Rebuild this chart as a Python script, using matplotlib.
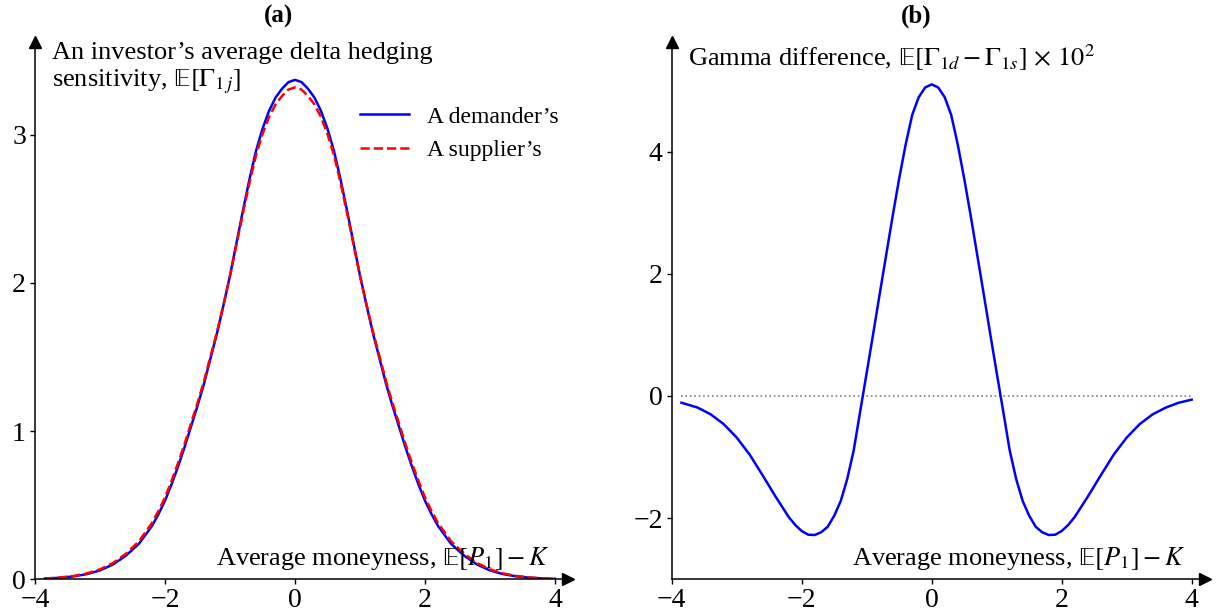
import matplotlib
matplotlib.use("Agg")
import matplotlib.pyplot as plt

plt.rcParams['font.family'] = ['Liberation Serif', 'DejaVu Serif']
plt.rcParams['mathtext.fontset'] = 'stix'

# values
moneyness = [-3.85, -3.6, -3.4, -3.2, -3.0, -2.8, -2.6, -2.4,
             -2.2, -2.1, -2.0, -1.9, -1.8, -1.7, -1.6, -1.5, -1.4, -1.3, -1.2, -1.1,
             -1.0, -0.9, -0.8, -0.7, -0.6, -0.5, -0.4, -0.3, -0.2, -0.1, 0.0,
             0.1, 0.2, 0.3, 0.4, 0.5, 0.6, 0.7, 0.8, 0.9, 1.0,
             1.1, 1.2, 1.3, 1.4, 1.5, 1.6, 1.7, 1.8, 1.9, 2.0, 2.1, 2.2,
             2.4, 2.6, 2.8, 3.0, 3.2, 3.4, 3.6, 3.8, 4.0]

gamma_demander = [0.004, 0.011, 0.020, 0.035, 0.060, 0.100, 0.160, 0.240,
                  0.360, 0.440, 0.530, 0.640, 0.760, 0.890, 1.030, 1.170, 1.320, 1.490, 1.660, 1.850,
                  2.050, 2.270, 2.490, 2.700, 2.890, 3.040, 3.160, 3.250, 3.310, 3.355, 3.370,
                  3.355, 3.310, 3.250, 3.160, 3.040, 2.890, 2.700, 2.490, 2.270, 2.050,
                  1.850, 1.660, 1.490, 1.320, 1.170, 1.030, 0.890, 0.760, 0.640, 0.530, 0.440, 0.360,
                  0.240, 0.160, 0.100, 0.060, 0.035, 0.020, 0.011, 0.006, 0.003]

gamma_supplier = [0.005, 0.013, 0.023, 0.040, 0.067, 0.110, 0.173, 0.257,
                  0.380, 0.461, 0.552, 0.663, 0.783, 0.912, 1.051, 1.190, 1.337, 1.504, 1.669, 1.853,
                  2.046, 2.260, 2.473, 2.677, 2.861, 3.004, 3.119, 3.204, 3.261, 3.305, 3.319,
                  3.305, 3.261, 3.204, 3.119, 3.004, 2.861, 2.677, 2.473, 2.260, 2.046,
                  1.853, 1.669, 1.504, 1.337, 1.190, 1.051, 0.912, 0.783, 0.663, 0.552, 0.461, 0.380,
                  0.257, 0.173, 0.110, 0.067, 0.040, 0.023, 0.013, 0.007, 0.004]

gamma_diff = [-0.11, -0.19, -0.30, -0.46, -0.68, -0.96, -1.30, -1.65,
              -1.98, -2.11, -2.21, -2.27, -2.275, -2.23, -2.14, -1.96, -1.72, -1.36, -0.89, -0.25,
              0.38, 1.02, 1.67, 2.31, 2.95, 3.56, 4.12, 4.60, 4.89, 5.05, 5.10,
              5.05, 4.89, 4.60, 4.12, 3.56, 2.95, 2.31, 1.67, 1.02, 0.38,
              -0.25, -0.89, -1.36, -1.72, -1.96, -2.14, -2.23, -2.275, -2.27, -2.21, -2.11, -1.98,
              -1.65, -1.30, -0.96, -0.68, -0.46, -0.30, -0.19, -0.11, -0.06]

xticks = [-4, -2, 0, 2, 4]
yticks_a = [0, 1, 2, 3]
yticks_b = [-2, 0, 2, 4]

fig = plt.figure(figsize=(12.17, 6.16), dpi=100)
W, H = 533 / 1217, 537 / 616
bottom = (616 - 579.3) / 616
ax1 = fig.add_axes([35 / 1217, bottom, W, H])
ax2 = fig.add_axes([671.7 / 1217, bottom, W, H])

fs_text = 19
fs_tick = 20
EE = r'\mathrm{𝔼}'
xlabel = r'Average moneyness, $%s[P_1]-K$' % EE

for ax in (ax1, ax2):
    ax.spines['top'].set_visible(False)
    ax.spines['right'].set_visible(False)
    for s in ('left', 'bottom'):
        ax.spines[s].set_linewidth(1.1)
    ax.set_xlim(-4, 4.2)
    ax.set_xticks(xticks)
    ax.tick_params(labelsize=fs_tick, length=3.5, width=1.0, pad=3)
    ax.plot(1, 0, '>k', ms=8, transform=ax.transAxes, clip_on=False)
    ax.plot(0, 1, '^k', ms=8, transform=ax.transAxes, clip_on=False)
    ax.text(0.965, 0.027, xlabel, transform=ax.transAxes, ha='right', va='baseline',
            fontsize=fs_text)

# (a)
ax1.plot(moneyness, gamma_demander, color='blue', lw=1.8, label='A demander’s')
ax1.plot(moneyness, gamma_supplier, color='red', lw=1.8, ls='--', label='A supplier’s')
ax1.set_ylim(0, 537 / 148.2)
ax1.set_yticks(yticks_a)
ax1.set_title('(a)', fontsize=18, fontweight='bold', x=0.456, pad=14)
ax1.text(0.031, 1.0, 'An investor’s average delta hedging\nsensitivity, $%s[\\Gamma_{1\\,j}]$' % EE,
         transform=ax1.transAxes, ha='left', va='top', fontsize=fs_text, linespacing=1.2)
ax1.legend(loc='upper left', bbox_to_anchor=(0.61, 0.881), frameon=False, fontsize=17,
           handlelength=2.08, handletextpad=0.75, labelspacing=0.5, borderpad=0, borderaxespad=0)

# (b)
ax2.hlines(0, moneyness[0], moneyness[-1], colors='gray', linestyles=':', lw=1.2)
ax2.plot(moneyness, gamma_diff, color='blue', lw=1.8)
ax2.set_ylim(-3, -3 + 537 / 61.1)
ax2.set_yticks(yticks_b)
ax2.set_title('(b)', fontsize=18, fontweight='bold', x=0.458, pad=14)
ax2.text(0.03, 1.0, r'Gamma difference, $%s[\Gamma_{1d}-\Gamma_{1s}]\,\times\,10^2$' % EE,
         transform=ax2.transAxes, ha='left', va='top', fontsize=fs_text)

fig.savefig('out.png', dpi=100)
